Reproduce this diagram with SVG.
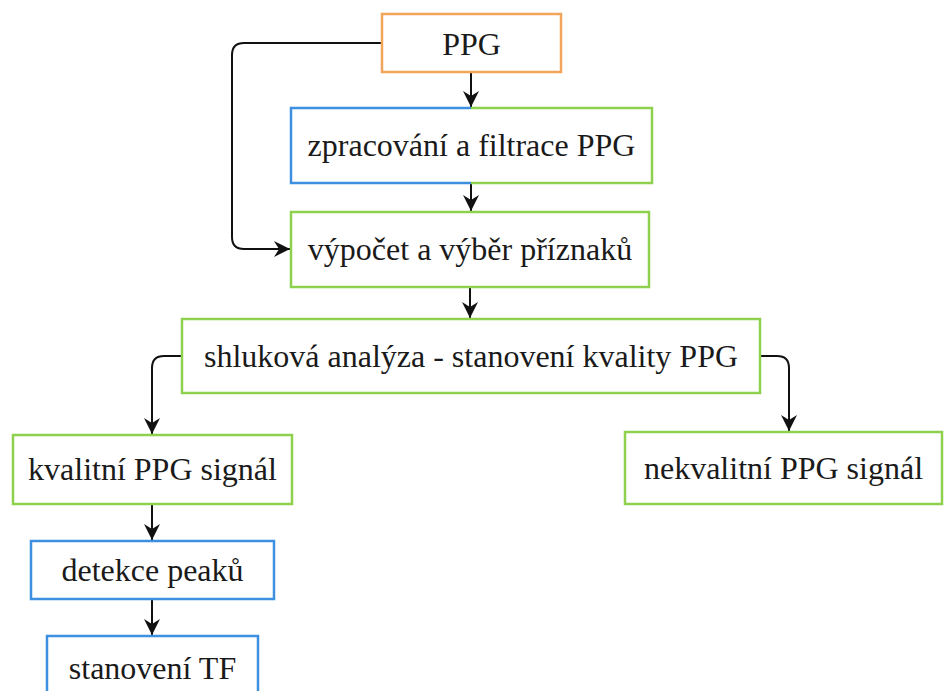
<svg xmlns="http://www.w3.org/2000/svg" width="944" height="691" viewBox="0 0 944 691">
<style>
.box{fill:#fff;stroke-width:2.5}
.g{stroke:#8fd14f}
.b{stroke:#3d8fe0}
.o{stroke:#f2a55a}
.t{font-family:"Times New Roman","Liberation Serif",Tinos,"Nimbus Roman","Noto Serif","DejaVu Serif",serif;font-size:32px;fill:#1a1a1a;text-anchor:middle}
.c{fill:none;stroke:#111;stroke-width:2;marker-end:url(#ah)}
</style>
<defs>
<marker id="ah" markerUnits="userSpaceOnUse" markerWidth="18" markerHeight="18" refX="16" refY="8" orient="auto">
<path d="M0,0 L16,8 L0,16 L5,8 Z" fill="#111"/>
</marker>
</defs>
<rect width="944" height="691" fill="#fff"/>
<g id="connectors">
<path class="c" d="M471,72 V107"/>
<path class="c" d="M471,183 V211"/>
<path class="c" d="M382,43 H244 Q232,43 232,55 V237 Q232,249 244,249 H290"/>
<path class="c" d="M470,287 V318"/>
<path class="c" d="M182,356 H164 Q152,356 152,368 V434"/>
<path class="c" d="M760,356 H777 Q789,356 789,368 V431"/>
<path class="c" d="M152,504 V540"/>
<path class="c" d="M152,599 V635"/>
</g>
<g id="n-ppg">
<rect class="box o" x="382" y="14" width="179" height="58"/>
<text class="t" x="471.5" y="55">PPG</text>
</g>
<g id="n-zpracovani">
<rect x="291" y="108" width="361" height="75" fill="#fff"/>
<path d="M471,108 H291 V183 H471" fill="none" stroke="#3d8fe0" stroke-width="2.5"/>
<path d="M471,108 H652 V183 H471" fill="none" stroke="#8fd14f" stroke-width="2.5"/>
<text class="t" x="471.5" y="156">zpracování a filtrace PPG</text>
</g>
<g id="n-vypocet">
<rect class="box g" x="291" y="212" width="358" height="75"/>
<text class="t" x="470" y="260">výpočet a výběr příznaků</text>
</g>
<g id="n-shlukova">
<rect class="box g" x="182" y="319" width="578" height="74"/>
<text class="t" x="471" y="367">shluková analýza - stanovení kvality PPG</text>
</g>
<g id="n-kvalitni">
<rect class="box g" x="13" y="435" width="279" height="69"/>
<text class="t" x="152.5" y="480">kvalitní PPG signál</text>
</g>
<g id="n-nekvalitni">
<rect class="box g" x="625" y="432" width="317" height="72"/>
<text class="t" x="783.5" y="479">nekvalitní PPG signál</text>
</g>
<g id="n-detekce">
<rect class="box b" x="31" y="541" width="243" height="58"/>
<text class="t" x="152.5" y="581">detekce peaků</text>
</g>
<g id="n-stanoveni">
<rect class="box b" x="47" y="636" width="211" height="70"/>
<text class="t" x="152.5" y="679">stanovení TF</text>
</g>
</svg>
